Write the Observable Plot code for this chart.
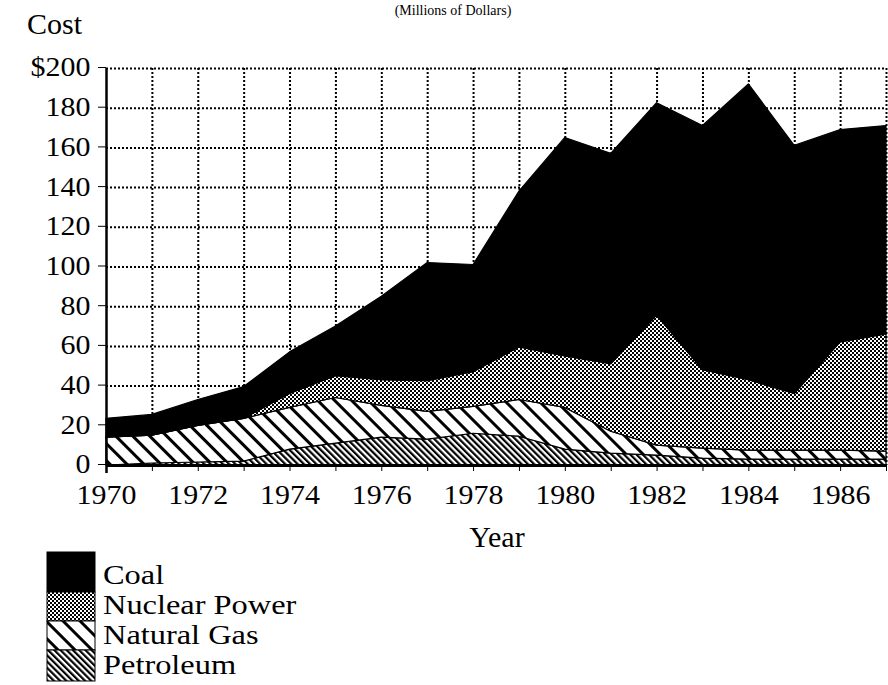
<!DOCTYPE html>
<html>
<head>
<meta charset="utf-8">
<script src="https://cdn.jsdelivr.net/npm/d3@7"></script>
<script src="https://cdn.jsdelivr.net/npm/@observablehq/plot@0.6"></script>
<style>
  body { margin: 0; background: white; }
  #wrap { position: relative; width: 888px; height: 685px; background: white; font-family: "Liberation Serif", serif; overflow: hidden; }
  #chart { position: absolute; left: 0; top: 0; }
  #overlay { position: absolute; left: 0; top: 0; }
</style>
</head>
<body>
<div id="wrap">
  <svg width="0" height="0" style="position:absolute">
    <defs>
      <pattern id="pat-nuc" patternUnits="userSpaceOnUse" width="4" height="4">
        <rect width="4" height="4" fill="white"/>
        <rect width="2" height="2" fill="black"/>
        <rect x="2" y="2" width="2" height="2" fill="black"/>
      </pattern>
      <pattern id="pat-gas" patternUnits="userSpaceOnUse" width="12" height="12" patternTransform="rotate(-45)">
        <rect width="12" height="12" fill="white"/>
        <rect width="3" height="12" fill="black"/>
      </pattern>
      <pattern id="pat-pet" patternUnits="userSpaceOnUse" width="4.4" height="4.4" patternTransform="rotate(-45)">
        <rect width="4.4" height="4.4" fill="white"/>
        <rect width="2.2" height="4.4" fill="black"/>
      </pattern>
    </defs>
  </svg>
  <div id="chart"></div>
  <svg id="overlay" width="888" height="685"></svg>
</div>
<script>
// ---- Data (millions of dollars) ----
const years = [1970, 1971, 1972, 1973, 1974, 1975, 1976, 1977, 1978, 1979, 1980, 1981, 1982, 1983, 1984, 1985, 1986, 1987];
const petroleum  = [0, 1, 1.5, 2, 8, 11, 14, 13, 16, 14.5, 8, 6, 5, 3.5, 3, 3, 3, 3];
const naturalGas = [14, 14, 18.5, 21.5, 21, 23, 16, 14, 13.5, 18.5, 21, 11, 5, 5, 4.5, 4.5, 4.5, 4];
const nuclear    = [0, 0, 0, 0, 7, 11, 13, 15.5, 17.5, 26.5, 26, 34, 65.5, 39.5, 35.5, 28.5, 54.5, 59];
const coal       = [9.5, 10.5, 13, 16, 21, 25, 42, 59.5, 54, 78.5, 110, 106, 107, 123, 149, 125, 107, 105];
const seriesNames = ["Petroleum", "Natural Gas", "Nuclear Power", "Coal"]; // bottom to top
const yTicks = [0, 20, 40, 60, 80, 100, 120, 140, 160, 180, 200];
const xLabelYears = [1970, 1972, 1974, 1976, 1978, 1980, 1982, 1984, 1986];
const legendNames = ["Coal", "Nuclear Power", "Natural Gas", "Petroleum"];
const titleText = "(Millions of Dollars)";
const yTitle = "Cost";
const xTitle = "Year";

// ---- Build table ----
const seriesValues = [petroleum, naturalGas, nuclear, coal];
const data = [];
seriesNames.forEach((s, i) => years.forEach((yr, j) => data.push({year: yr, series: s, value: seriesValues[i][j]})));

const fillFor = {
  "Petroleum": "url(#pat-pet)",
  "Natural Gas": "url(#pat-gas)",
  "Nuclear Power": "url(#pat-nuc)",
  "Coal": "black"
};

const dotted = {stroke: "black", strokeOpacity: 1, strokeWidth: 2, strokeDasharray: "2,2"};

const chart = Plot.plot({
  width: 888,
  height: 560,
  marginLeft: 106,
  marginRight: 2,
  marginTop: 68,
  marginBottom: 95,
  style: {fontFamily: "Liberation Serif", fontSize: "28px", color: "black", background: "transparent", overflow: "visible"},
  x: {domain: [1970, 1987]},
  y: {domain: [0, 200]},
  color: {type: "identity"},
  marks: [
    Plot.gridX({ticks: years.slice(1), ...dotted}),
    Plot.gridY({ticks: yTicks.slice(1), ...dotted}),
    Plot.areaY(data, {x: "year", y: "value", z: "series", fill: d => fillFor[d.series], stroke: "black", strokeWidth: 1.2, order: null}),
    Plot.ruleX([1970], {stroke: "black", strokeWidth: 2.5, y1: -4, y2: 200}),
    Plot.ruleY([0], {stroke: "black", strokeWidth: 3}),
    Plot.axisY({ticks: yTicks, tickSize: 8, tickPadding: 8, fontSize: 28, dy: -1, label: null,
      tickFormat: d => d === 200 ? "$" + d : String(d)}),
    Plot.axisX({ticks: years, tickSize: 6, tickFormat: () => "", label: null}),
    Plot.axisX({ticks: xLabelYears, tickSize: 0, tickPadding: 19, fontSize: 28, label: null, tickFormat: d => String(d)})
  ]
});
document.getElementById("chart").appendChild(chart);

// widen tick labels slightly (the reference face is a little wider than Liberation Serif)
d3.select(chart).selectAll('g[aria-label="y-axis tick label"] text, g[aria-label="x-axis tick label"] text').each(function () {
  const t = d3.select(this);
  let tr = t.attr("transform");
  if (!tr) {
    const x = +t.attr("x") || 0, y = +t.attr("y") || 0;
    t.attr("x", null).attr("y", null);
    tr = `translate(${x},${y})`;
  }
  t.attr("transform", tr + " scale(1.07,1)");
});

// ---- Titles and legend ----
const ov = d3.select("#overlay").style("font-family", "Liberation Serif").attr("fill", "black");
ov.append("text").attr("x", 453).attr("y", 15).attr("text-anchor", "middle").attr("font-size", 14).text(titleText);
ov.append("text").attr("x", 27).attr("y", 34).attr("font-size", 30).text(yTitle);
ov.append("text").attr("x", 497).attr("y", 547).attr("text-anchor", "middle").attr("font-size", 30).text(xTitle);

const boxes = [[552, 592], [592, 621], [621, 650], [650, 681]];
const baselines = [584, 614, 644, 674];
const legendFill = {"Coal": "black", "Nuclear Power": "url(#pat-nuc)", "Natural Gas": "url(#pat-gas)", "Petroleum": "url(#pat-pet)"};
legendNames.forEach((name, i) => {
  ov.append("rect").attr("x", 47).attr("y", boxes[i][0]).attr("width", 48).attr("height", boxes[i][1] - boxes[i][0])
    .attr("fill", legendFill[name]).attr("stroke", "black").attr("stroke-width", 1);
  ov.append("text").attr("transform", `translate(103,${baselines[i]}) scale(1.2,1)`).attr("font-size", 27).text(name);
});
</script>
</body>
</html>
